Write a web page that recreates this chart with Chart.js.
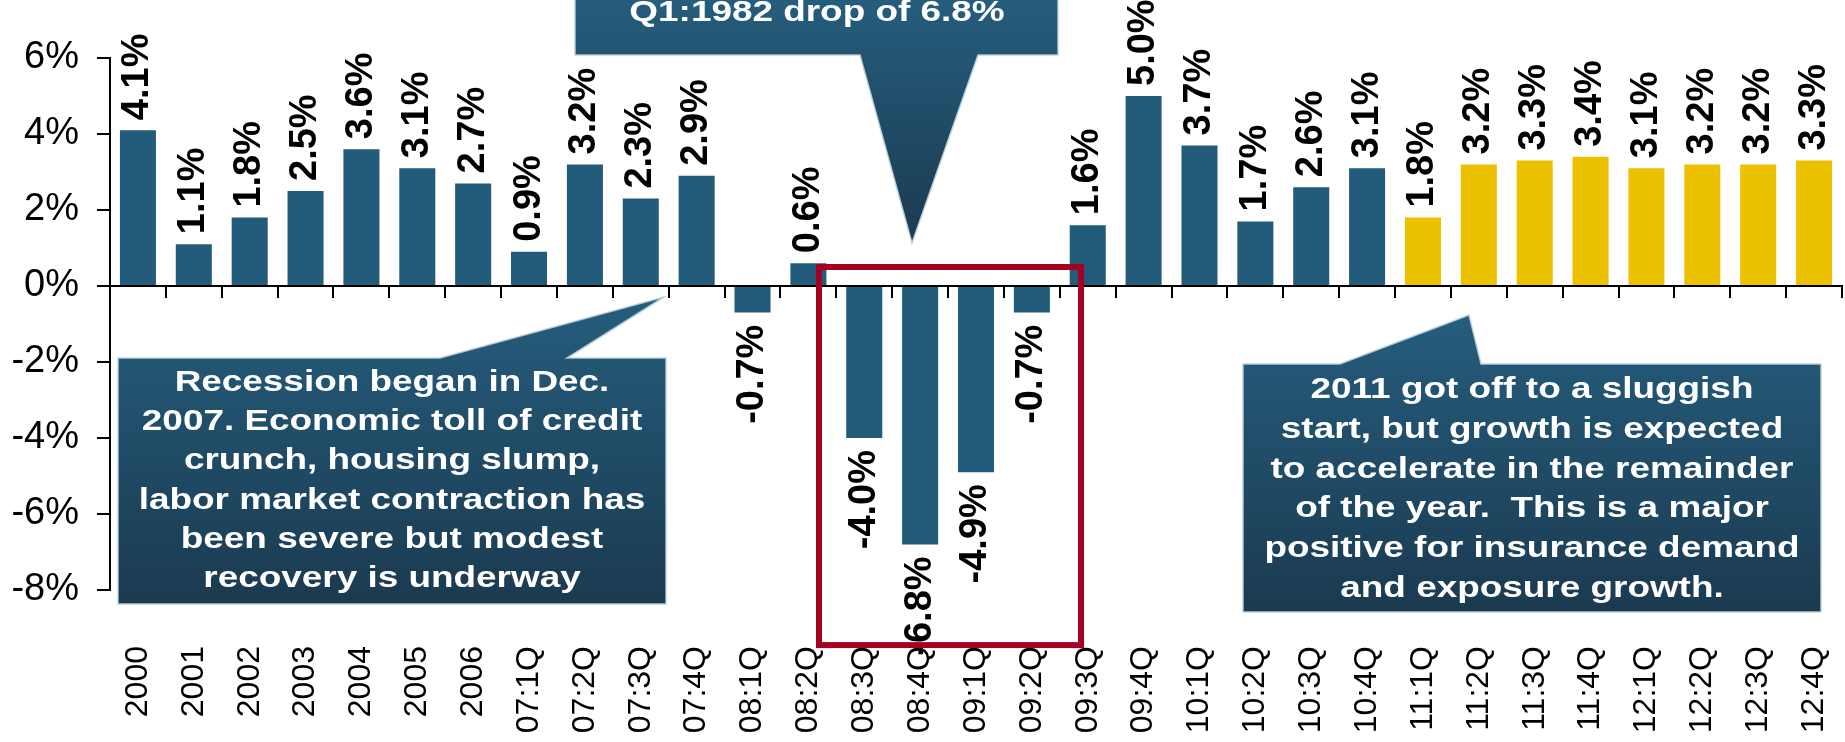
<!DOCTYPE html>
<html>
<head>
<meta charset="utf-8">
<script src="https://cdn.jsdelivr.net/npm/chart.js@4.4.1/dist/chart.umd.min.js"></script>
<style>
  html, body { margin: 0; padding: 0; background: #fff; }
</style>
</head>
<body>
<canvas id="gdpChart" width="1845" height="742"></canvas>
<script>
// real GDP growth, annual then quarterly (11:1Q on = forecast)
const categories = ['2000', '2001', '2002', '2003', '2004', '2005', '2006',
  '07:1Q', '07:2Q', '07:3Q', '07:4Q', '08:1Q', '08:2Q', '08:3Q', '08:4Q',
  '09:1Q', '09:2Q', '09:3Q', '09:4Q', '10:1Q', '10:2Q', '10:3Q', '10:4Q',
  '11:1Q', '11:2Q', '11:3Q', '11:4Q', '12:1Q', '12:2Q', '12:3Q', '12:4Q'];
const growth = [4.1, 1.1, 1.8, 2.5, 3.6, 3.1, 2.7,
  0.9, 3.2, 2.3, 2.9, -0.7, 0.6, -4.0, -6.8,
  -4.9, -0.7, 1.6, 5.0, 3.7, 1.7, 2.6, 3.1,
  1.8, 3.2, 3.3, 3.4, 3.1, 3.2, 3.2, 3.3];
const forecastFrom = '11:1Q';
const yTickValues = [-8, -6, -4, -2, 0, 2, 4, 6];

// red highlight box, in category index / percent units
const recessionBox = { from: 12.19, to: 16.88, top: 0.5, bottom: -9.45 };

const topNote = ['Q1:1982 drop of 6.8%'];
const recessionNote = ['Recession began in Dec.', '2007. Economic toll of credit',
  'crunch, housing slump,', 'labor market contraction has',
  'been severe but modest', 'recovery is underway'];
const outlookNote = ['2011 got off to a sluggish', 'start, but growth is expected',
  'to accelerate in the remainder', 'of the year.  This is a major',
  'positive for insurance demand', 'and exposure growth.'];

const FONT = "'Liberation Sans', Arial, sans-serif";
const BLUE = '#235b7a';
const GOLD = '#ebc100';

const callouts = [
  { lines: topNote, cx: 817, base: 21, step: 40, gradTop: 0, gradBottom: 243,
    shape: [[575, -80], [1058, -80], [1058, 55], [978, 55], [912, 243], [860, 55], [575, 55]] },
  { lines: recessionNote, cx: 392, base: 391, step: 39.2, gradTop: 297, gradBottom: 604,
    shape: [[118, 358], [440, 358], [664, 297], [567, 358], [666, 358], [666, 604], [118, 604]] },
  { lines: outlookNote, cx: 1532, base: 398, step: 39.8, gradTop: 315, gradBottom: 612,
    shape: [[1243, 364], [1340, 364], [1469, 315], [1481, 364], [1821, 364], [1821, 612], [1243, 612]] }
];

function drawCallout(ctx, c) {
  ctx.save();
  const g = ctx.createLinearGradient(0, c.gradTop, 0, c.gradBottom);
  g.addColorStop(0, '#255d7d');
  g.addColorStop(1, '#1b3a50');
  ctx.beginPath();
  c.shape.forEach((p, i) => i ? ctx.lineTo(p[0], p[1]) : ctx.moveTo(p[0], p[1]));
  ctx.closePath();
  ctx.fillStyle = g;
  ctx.fill();
  ctx.strokeStyle = 'rgba(190,208,220,0.9)';
  ctx.lineWidth = 1.5;
  ctx.stroke();
  ctx.fillStyle = '#fff';
  ctx.font = 'bold 30px ' + FONT;
  ctx.textAlign = 'center';
  ctx.textBaseline = 'alphabetic';
  c.lines.forEach((line, i) => {
    ctx.save();
    ctx.translate(c.cx, c.base + i * c.step);
    ctx.scale(1.23, 1);
    ctx.fillText(line, 0, 0);
    ctx.restore();
  });
  ctx.restore();
}

const decorations = {
  id: 'decorations',
  afterDatasetsDraw(chart) {
    const ctx = chart.ctx;
    const meta = chart.getDatasetMeta(0);
    ctx.save();
    ctx.font = 'bold 38px ' + FONT;
    ctx.fillStyle = '#000';
    ctx.textBaseline = 'middle';
    meta.data.forEach((bar, i) => {
      const v = growth[i];
      ctx.save();
      if (v >= 0) {
        ctx.translate(bar.x, bar.y - 10);
        ctx.textAlign = 'left';
      } else {
        ctx.translate(bar.x, bar.y + 12);
        ctx.textAlign = 'right';
      }
      ctx.rotate(-Math.PI / 2);
      ctx.fillText(v.toFixed(1) + '%', 0, 0);
      ctx.restore();
    });
    ctx.restore();
  },
  afterDraw(chart) {
    const ctx = chart.ctx;
    const xs = chart.scales.x, ys = chart.scales.y;
    const l = xs.getPixelForValue(recessionBox.from);
    const r = xs.getPixelForValue(recessionBox.to);
    const t = ys.getPixelForValue(recessionBox.top);
    const b = ys.getPixelForValue(recessionBox.bottom);
    ctx.save();
    ctx.strokeStyle = '#a50021';
    ctx.lineWidth = 6;
    ctx.strokeRect(l, t, r - l, b - t);
    ctx.restore();
    callouts.forEach(c => drawCallout(ctx, c));
  }
};

const split = categories.indexOf(forecastFrom);

new Chart(document.getElementById('gdpChart').getContext('2d'), {
  type: 'bar',
  data: {
    labels: categories,
    datasets: [{
      data: growth,
      backgroundColor: growth.map((v, i) => i >= split ? GOLD : BLUE),
      barPercentage: 0.645,
      categoryPercentage: 1.0,
      xAxisID: 'x',
      yAxisID: 'y'
    }]
  },
  options: {
    responsive: false,
    animation: false,
    devicePixelRatio: 1,
    layout: { padding: { top: 58, right: 3, left: 0, bottom: 0 } },
    plugins: { legend: { display: false }, tooltip: { enabled: false } },
    scales: {
      y: {
        min: -8,
        max: 6,
        afterBuildTicks: s => { s.ticks = yTickValues.map(v => ({ value: v })); },
        afterFit: s => { s.width = 110; s.paddingTop = 0; s.paddingBottom = 0; },
        border: { display: true, color: '#000', width: 2 },
        grid: { drawOnChartArea: false, drawTicks: true, tickLength: 13, color: '#000', lineWidth: 2 },
        ticks: {
          callback: v => v + '%',
          color: '#000',
          padding: 18,
          font: { family: FONT, size: 38 }
        }
      },
      x: {
        type: 'category',
        position: { y: 0 },
        offset: true,
        afterFit: s => { s.paddingLeft = 0; s.paddingRight = 0; },
        border: { display: true, color: '#000', width: 2 },
        grid: { offset: true, drawOnChartArea: false, drawTicks: true, tickLength: 11, color: '#000', lineWidth: 2 },
        ticks: { display: false }
      },
      x2: {
        type: 'category',
        axis: 'x',
        position: 'bottom',
        labels: categories,
        offset: true,
        afterFit: s => { s.height = 152; s.paddingLeft = 0; s.paddingRight = 0; },
        border: { display: false },
        grid: { display: false, drawTicks: false },
        ticks: {
          autoSkip: false,
          maxRotation: 90,
          minRotation: 90,
          padding: 56,
          color: '#000',
          font: { family: FONT, size: 32 }
        }
      }
    }
  },
  plugins: [decorations]
});
</script>
</body>
</html>
